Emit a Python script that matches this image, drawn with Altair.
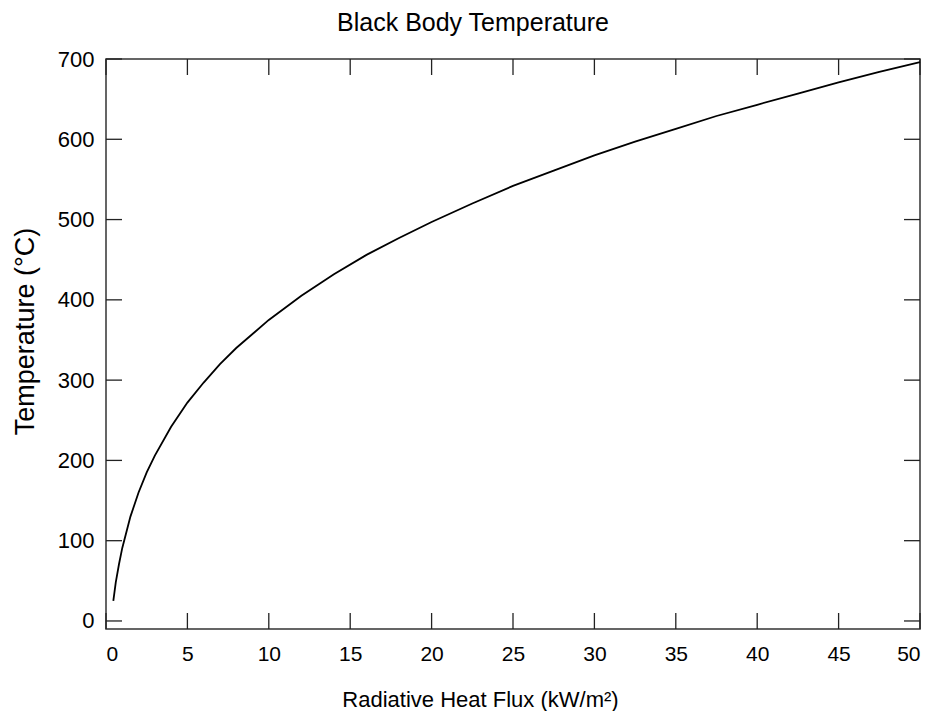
import altair as alt
import pandas as pd

# Curve readings (Radiative heat flux kW/m², temperature °C)
flux = [0.45, 0.6, 0.8, 1.0, 1.5, 2.0, 2.5, 3.0, 4.0, 5.0, 6.0, 7.0, 8.0, 10.0,
        12.0, 14.0, 16.0, 18.0, 20.0, 22.5, 25.0, 27.5, 30.0, 32.5, 35.0, 37.5,
        40.0, 42.5, 45.0, 47.5, 50.0]
temp = [25, 48, 71, 91, 130, 160, 185, 206, 242, 272, 297, 320, 340, 375,
        405, 432, 456, 477, 497, 520, 542, 561, 580, 597, 613, 629,
        643, 657, 671, 684, 696]

x_ticks = [0, 5, 10, 15, 20, 25, 30, 35, 40, 45, 50]
y_ticks = [0, 100, 200, 300, 400, 500, 600, 700]

W, H = 814, 570
TICK = 16
FONT = "Liberation Sans"

curve = pd.DataFrame({"flux": flux, "temp": temp})
xt = pd.DataFrame({"flux": x_ticks})
yt = pd.DataFrame({"temp": y_ticks})

xscale = alt.Scale(domain=[0, 50], nice=False, zero=False)
yscale = alt.Scale(domain=[-10, 700], nice=False, zero=False)

xaxis = alt.Axis(
    values=x_ticks, title="Radiative Heat Flux (kW/m²)", domain=False,
    ticks=False, labelPadding=14, labelFontSize=21, labelFont=FONT,
    labelColor="black", titleFontSize=22, titleFont=FONT,
    titleFontWeight="normal", titleColor="black", titleX=374, titleY=77,
    titleBaseline="alphabetic", titleAlign="center", grid=False)
yaxis = alt.Axis(
    values=y_ticks, title="Temperature (°C)", domain=False, ticks=False,
    labelPadding=12, labelFontSize=22, labelFont=FONT, labelColor="black",
    titleFontSize=27, titleFont=FONT, titleFontWeight="normal",
    titleColor="black", titleAngle=270, titleX=-73, titleY=272,
    titleBaseline="alphabetic", titleAlign="center", grid=False)

X = alt.X("flux:Q", scale=xscale, axis=xaxis, title="Radiative Heat Flux (kW/m²)")
Y = alt.Y("temp:Q", scale=yscale, axis=yaxis, title="Temperature (°C)")

line = alt.Chart(curve).mark_line(color="black", strokeWidth=1.8).encode(x=X, y=Y)

tick_color = "#222222"
bottom = alt.Chart(xt).mark_rule(color=tick_color, strokeWidth=1.3).encode(
    x=X, y=alt.value(H), y2=alt.value(H - TICK))
top = alt.Chart(xt).mark_rule(color=tick_color, strokeWidth=1.3).encode(
    x=X, y=alt.value(0), y2=alt.value(TICK))
left = alt.Chart(yt).mark_rule(color=tick_color, strokeWidth=1.3).encode(
    y=Y, x=alt.value(0), x2=alt.value(TICK))
right = alt.Chart(yt).mark_rule(color=tick_color, strokeWidth=1.3).encode(
    y=Y, x=alt.value(W), x2=alt.value(W - TICK))

chart = alt.layer(bottom, top, left, right, line).properties(
    width=W, height=H,
    title=alt.TitleParams("Black Body Temperature", fontSize=25, font=FONT,
                          fontWeight="normal", color="black", anchor="middle",
                          dx=-40, offset=12),
    autosize=alt.AutoSizeParams(type="none"),
    padding={"left": 98, "top": 51, "right": 7, "bottom": 82},
).configure_view(stroke="#333333", strokeWidth=1.5)

chart.save("out.html", embed_options={"renderer": "svg", "actions": False})
